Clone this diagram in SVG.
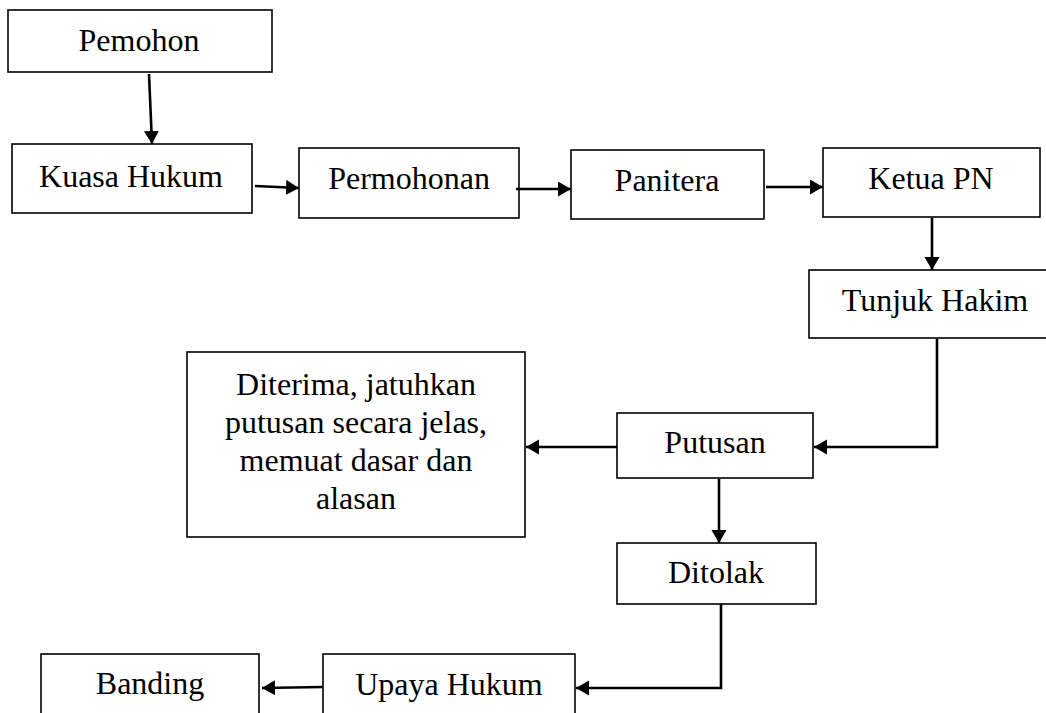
<svg xmlns="http://www.w3.org/2000/svg" width="1046" height="713" viewBox="0 0 1046 713">
<style>
.box{fill:#fff;stroke:#000;stroke-width:1.6}
.lbl{font-family:"Liberation Serif","Times New Roman",serif;font-size:32px;fill:#000;text-anchor:middle}
.con{fill:none;stroke:#000;stroke-width:2.6}
</style>
<defs>
<marker id="ah" markerUnits="userSpaceOnUse" markerWidth="14" markerHeight="16" refX="13" refY="7.5" orient="auto">
<path d="M0,0 L13,7.5 L0,15 z" fill="#000"/>
</marker>
</defs>
<rect width="1046" height="713" fill="#fff"/>
<g id="pemohon"><rect class="box" x="8" y="10" width="264" height="62"/><text class="lbl" x="139" y="51">Pemohon</text></g>
<g id="kuasa-hukum"><rect class="box" x="12" y="144" width="240" height="69"/><text class="lbl" x="131" y="187">Kuasa Hukum</text></g>
<g id="permohonan"><rect class="box" x="299" y="148" width="220" height="70"/><text class="lbl" x="409" y="189">Permohonan</text></g>
<g id="panitera"><rect class="box" x="571" y="150" width="193" height="69"/><text class="lbl" x="667" y="191">Panitera</text></g>
<g id="ketua-pn"><rect class="box" x="823" y="148" width="217" height="69"/><text class="lbl" x="931" y="189">Ketua PN</text></g>
<g id="tunjuk-hakim"><rect class="box" x="809" y="270" width="252" height="68"/><text class="lbl" x="935" y="311">Tunjuk Hakim</text></g>
<g id="diterima"><rect class="box" x="187" y="352" width="338" height="185"/>
<text class="lbl" x="356" y="395">Diterima, jatuhkan</text>
<text class="lbl" x="356" y="433">putusan secara jelas,</text>
<text class="lbl" x="356" y="471">memuat dasar dan</text>
<text class="lbl" x="356" y="509">alasan</text></g>
<g id="putusan"><rect class="box" x="617" y="413" width="196" height="65"/><text class="lbl" x="715" y="453">Putusan</text></g>
<g id="ditolak"><rect class="box" x="617" y="543" width="199" height="61"/><text class="lbl" x="716" y="583">Ditolak</text></g>
<g id="upaya-hukum"><rect class="box" x="323" y="654" width="252" height="70"/><text class="lbl" x="449" y="695">Upaya Hukum</text></g>
<g id="banding"><rect class="box" x="41" y="654" width="218" height="70"/><text class="lbl" x="150" y="694">Banding</text></g>
<g id="connectors">
<line class="con" x1="149" y1="74" x2="152" y2="144" marker-end="url(#ah)"/>
<line class="con" x1="255" y1="186" x2="299" y2="188" marker-end="url(#ah)"/>
<line class="con" x1="516" y1="189" x2="571" y2="189" marker-end="url(#ah)"/>
<line class="con" x1="766" y1="187" x2="823" y2="187" marker-end="url(#ah)"/>
<line class="con" x1="932" y1="218" x2="932" y2="270" marker-end="url(#ah)"/>
<polyline class="con" points="937,339 937,447 814,447" marker-end="url(#ah)"/>
<line class="con" x1="617" y1="447" x2="526" y2="447" marker-end="url(#ah)"/>
<line class="con" x1="719" y1="479" x2="719" y2="543" marker-end="url(#ah)"/>
<polyline class="con" points="721,604 721,688 576,688" marker-end="url(#ah)"/>
<line class="con" x1="323" y1="687" x2="262" y2="688" marker-end="url(#ah)"/>
</g>
</svg>
